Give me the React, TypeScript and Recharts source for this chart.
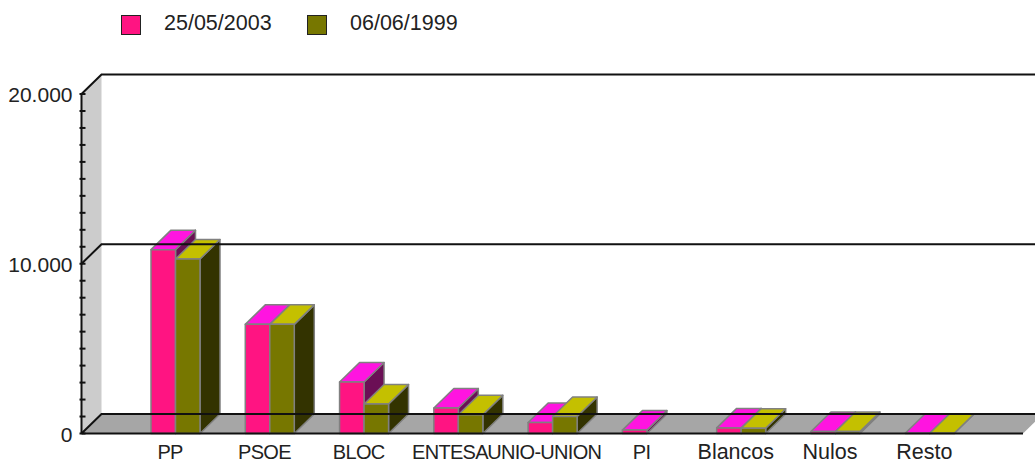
import { BarChart, Bar, XAxis, YAxis, Legend, ReferenceArea, ReferenceLine } from 'recharts';

const categories = ['PP', 'PSOE', 'BLOC', 'ENTESA', 'UNIO-UNION', 'PI', 'Blancos', 'Nulos', 'Resto'];
const votes2003 = [10830, 6430, 3030, 1500, 650, 200, 330, 120, 15];
const votes1999 = [10280, 6430, 1740, 1100, 1000, null, 310, 120, 15];
const yTicks = [0, 1000, 2000, 3000, 4000, 5000, 6000, 7000, 8000, 9000, 10000, 11000, 12000, 13000, 14000, 15000, 16000, 17000, 18000, 19000, 20000];
const yLabels = [0, 10000, 20000];

const chartData = categories.map((name, i) => ({ name, a: votes2003[i], b: votes1999[i] }));

const FONT = '"Liberation Sans", Arial, sans-serif';
const DX = 20;
const DY = 19.5;
const EDGE = '#808080';
const PLOT_LEFT = 81.5;
const PLOT_RIGHT = 1023;

function Bar3D({ x, y, width, height, front, top, side }: any) {
  if (height == null || Number.isNaN(y)) return null;
  const r = x + width;
  const b = y + height;
  return (
    <g stroke={EDGE} strokeWidth={1.5} strokeLinejoin="round">
      <polygon points={`${r},${y} ${r + DX},${y - DY} ${r + DX},${b - DY} ${r},${b}`} fill={side} />
      <polygon points={`${x},${y} ${x + DX},${y - DY} ${r + DX},${y - DY} ${r},${y}`} fill={top} />
      <rect x={x} y={y} width={width} height={height} fill={front} />
    </g>
  );
}

function Walls({ y, height }: any) {
  const b = y + height;
  const x = PLOT_LEFT;
  return (
    <g>
      <polygon points={`${x},${y} ${x + DX},${y - DY} ${x + DX},${b - DY} ${x},${b}`} fill="#cccccc" />
      <polygon points={`${x},${b} ${x + DX},${b - DY} ${PLOT_RIGHT + DX},${b - DY} ${PLOT_RIGHT},${b}`} fill="#a6a6a6" />
    </g>
  );
}

function BackLine({ x1, y1, x2, y2 }: any) {
  const x0 = Math.min(x1, x2);
  const xe = Math.max(x1, x2);
  return (
    <polyline
      points={`${x0},${y1} ${x0 + DX},${y1 - DY} ${xe + DX},${y2 - DY}`}
      fill="none"
      stroke="#111"
      strokeWidth={2}
    />
  );
}

function YTick({ x, y, payload }: any) {
  const major = yLabels.includes(payload.value);
  return (
    <g>
      <line x1={x + 6} x2={x + 12} y1={y} y2={y} stroke="#111" strokeWidth={2} />
      {major && (
        <text x={x - 1} y={y + 8} textAnchor="end" fontFamily={FONT} fontSize={21} fill="#222">
          {payload.value.toLocaleString('de-DE')}
        </text>
      )}
    </g>
  );
}

function XTick({ x, y, payload }: any) {
  const label: string = payload.value;
  const caps = label === label.toUpperCase();
  const shift = label === 'ENTESA' || label === 'UNIO-UNION' ? -8 : -5;
  return (
    <text
      x={x + shift}
      y={y + 17}
      textAnchor="middle"
      fontFamily={FONT}
      fontSize={caps ? 20 : 21.5}
      letterSpacing={caps ? -0.7 : 0}
      fill="#222"
    >
      {label}
    </text>
  );
}

function LegendRow({ payload }: any) {
  const pos = [121, 307];
  return (
    <div style={{ position: 'relative', height: 40, fontFamily: FONT, fontSize: 21.5, color: '#222' }}>
      {(payload ?? []).map((item: any, i: number) => (
        <div key={item.value}>
          <div
            style={{
              position: 'absolute',
              left: pos[i],
              top: 15,
              width: 18,
              height: 18,
              background: item.color,
              border: '1.5px solid #222',
            }}
          />
          <span style={{ position: 'absolute', left: pos[i] + 43, top: 10, lineHeight: '26px' }}>{item.value}</span>
        </div>
      ))}
    </div>
  );
}

export default function App() {
  return (
    <div style={{ position: 'absolute', left: 0, top: 0, width: 1035, height: 460, overflow: 'hidden', background: '#fff' }}>
      <BarChart
        width={1035}
        height={460}
        data={chartData}
        barSize={24.5}
        barGap={0}
        margin={{ top: 54, right: 12, bottom: 0, left: 0 }}
      >
        <Legend
          verticalAlign="top"
          align="left"
          height={40}
          itemSorter="dataKey"
          content={<LegendRow />}
          wrapperStyle={{ left: 0, top: 0, width: 1035, margin: 0, padding: 0 }}
        />
        <XAxis
          dataKey="name"
          height={26.5}
          interval={0}
          padding={{ left: 46.5, right: 46.5 }}
          axisLine={false}
          tickLine={false}
          tick={<XTick />}
        />
        <YAxis
          width={81.5}
          domain={[0, 20000]}
          ticks={yTicks}
          interval={0}
          axisLine={{ stroke: '#111', strokeWidth: 2 }}
          tickLine={false}
          tick={<YTick />}
        />
        <ReferenceArea y1={0} y2={20000} ifOverflow="visible" shape={<Walls />} fillOpacity={1} />
        {yLabels.map((v) => (
          <ReferenceLine key={v} y={v} ifOverflow="visible" shape={<BackLine />} />
        ))}
        <ReferenceLine y={0} ifOverflow="visible" stroke="#111" strokeWidth={2} />
        <Bar
          dataKey="a"
          name="25/05/2003"
          fill="#ff1482"
          isAnimationActive={false}
          shape={<Bar3D front="#ff1482" top="#ff14e0" side="#6b0f55" />}
        />
        <Bar
          dataKey="b"
          name="06/06/1999"
          fill="#777700"
          isAnimationActive={false}
          shape={<Bar3D front="#777700" top="#c4c000" side="#333300" />}
        />
      </BarChart>
    </div>
  );
}
